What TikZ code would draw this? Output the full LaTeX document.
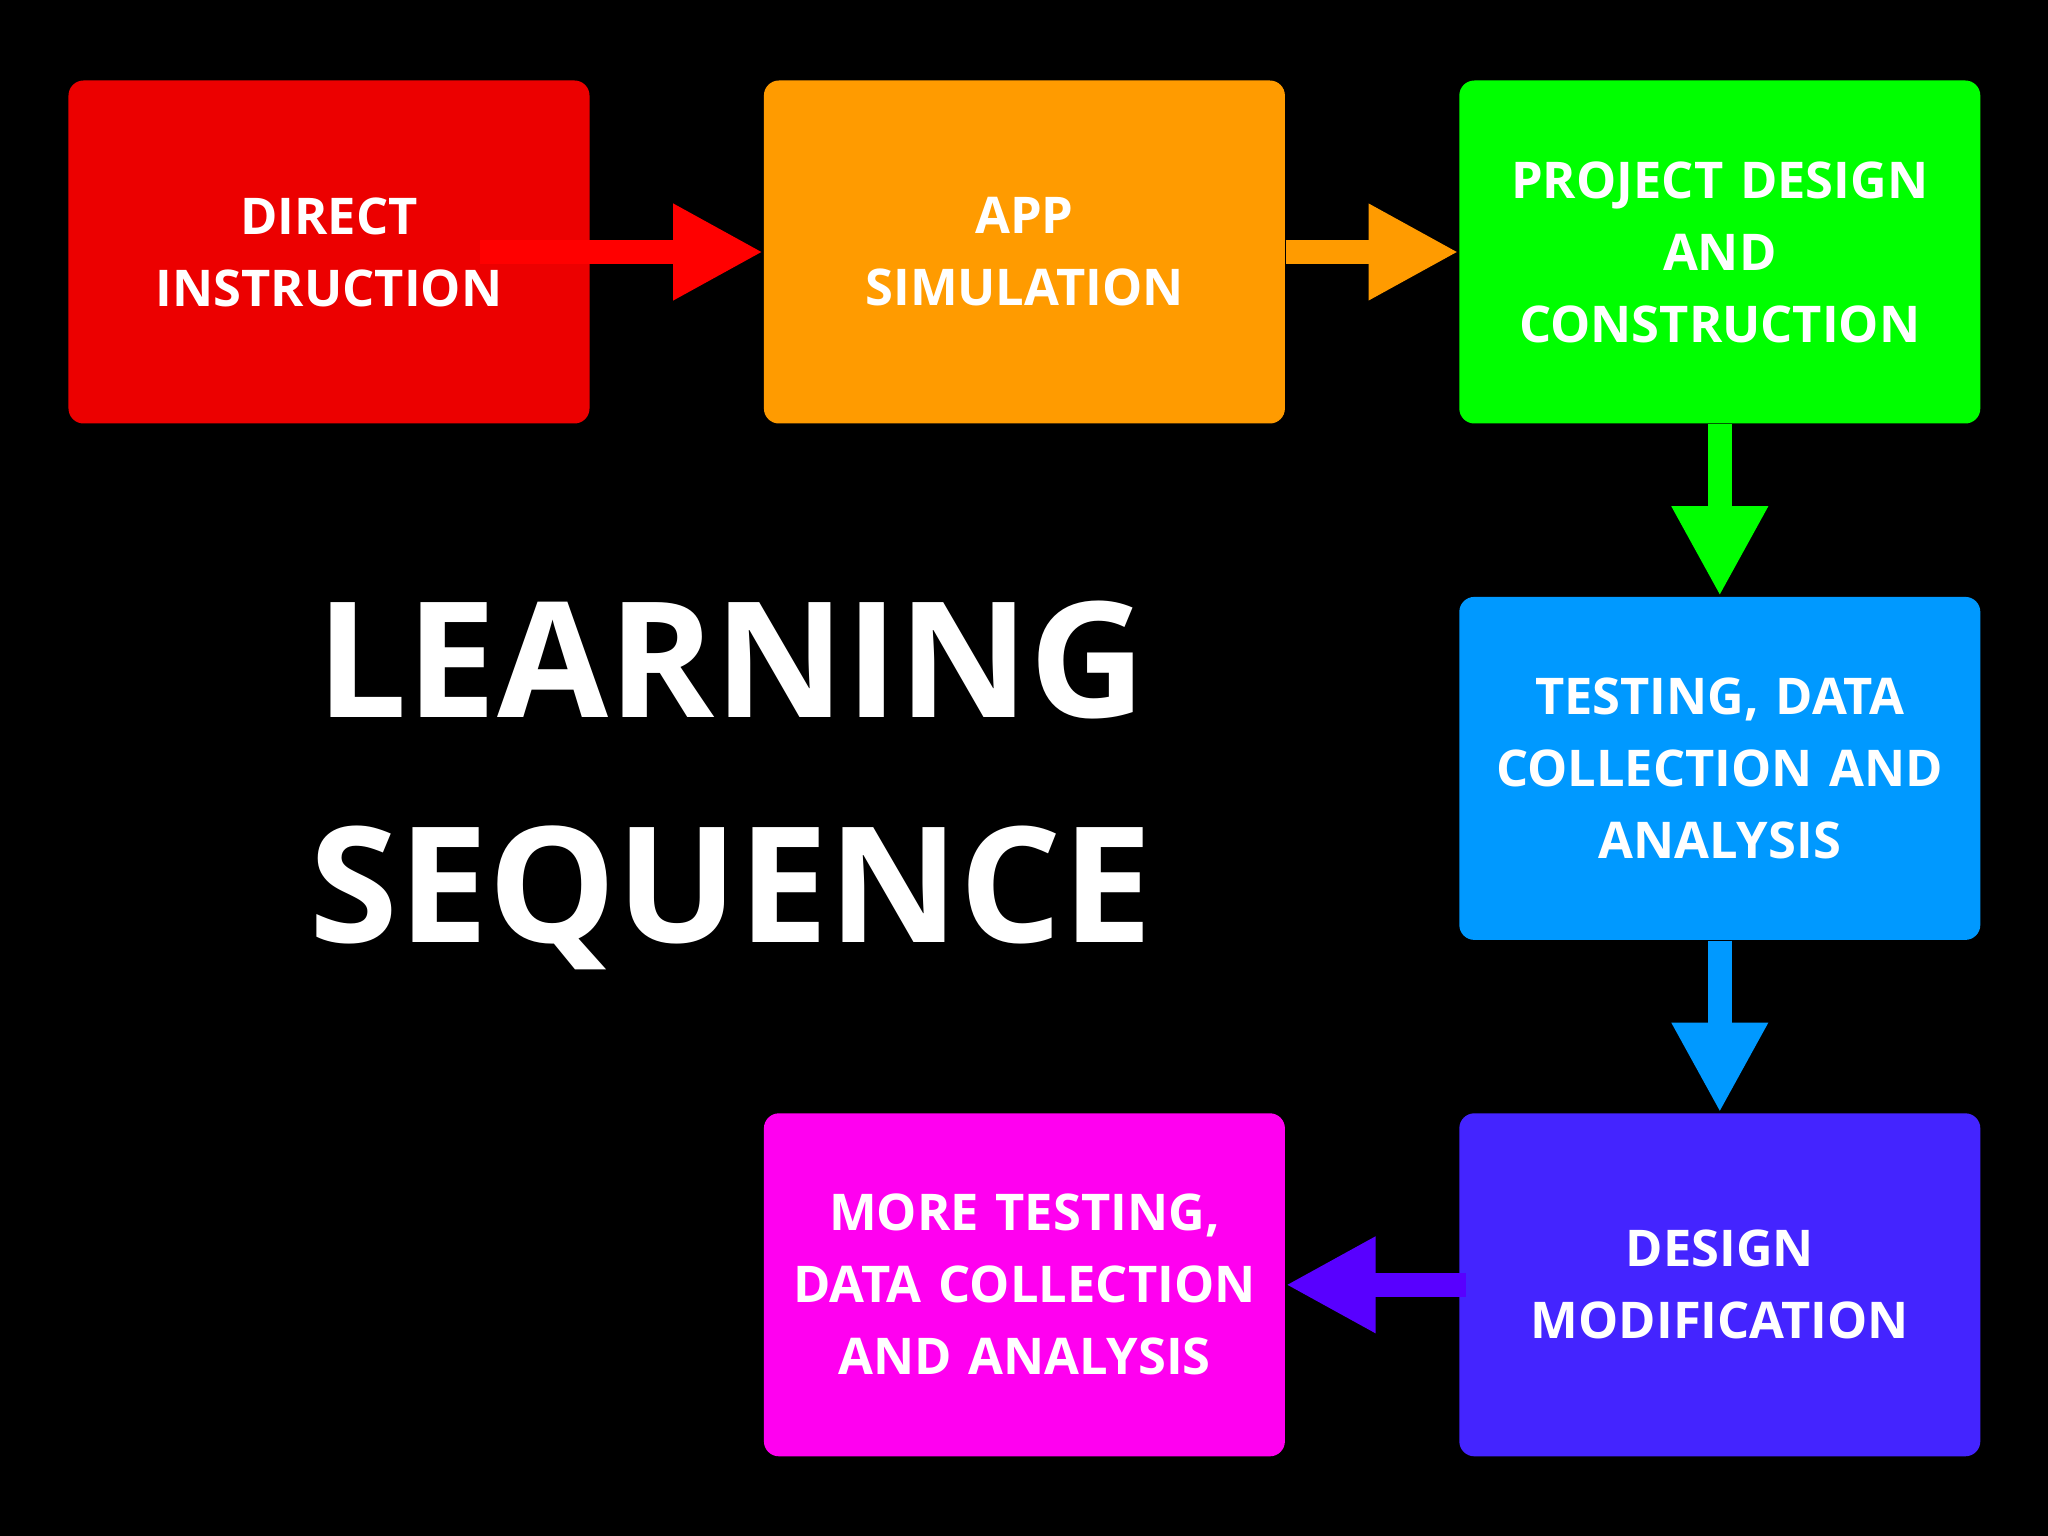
\documentclass[tikz,border=0pt]{standalone}
\usepackage{fontspec}
\setmainfont{Open Sans}
\usetikzlibrary{positioning,arrows.meta,calc}

\definecolor{directred}{RGB}{236,0,0}
\definecolor{arrowred}{RGB}{255,0,0}
\definecolor{apporange}{RGB}{255,155,0}
\definecolor{projgreen}{RGB}{0,255,0}
\definecolor{testblue}{RGB}{0,153,255}
\definecolor{modindigo}{RGB}{68,36,255}
\definecolor{arrowviolet}{RGB}{88,0,255}
\definecolor{moremagenta}{RGB}{255,0,240}

\begin{document}
\begin{tikzpicture}[
  stagebox/.style={rectangle, rounded corners=0.15cm,
    minimum width=5.21cm, minimum height=3.43cm, inner sep=0pt,
    text width=5.2cm, align=center, text=white,
    font=\fontsize{14.4}{20.5}\selectfont\bfseries},
  flow/.style={line width=0.24cm,
    -{Triangle[length=0.9cm, width=0.9cm]}}
]
  \fill[black] (0,0) rectangle (20.48,-15.36);
  \node (direct)[stagebox, fill=directred] at (3.29,-2.52)
    {DIRECT\\INSTRUCTION};
  \node (appsim)[stagebox, fill=apporange, right = 1.73 of direct]
    {APP\\SIMULATION};
  \node (project)[stagebox, fill=projgreen, right = 1.73 of appsim]
    {PROJECT DESIGN\\AND\\CONSTRUCTION};
  \node (testing)[stagebox, fill=testblue, below = 1.72 of project]
    {TESTING, DATA\\COLLECTION AND\\ANALYSIS};
  \node (modify)[stagebox, fill=modindigo, below = 1.72 of testing]
    {DESIGN\\MODIFICATION};
  \node (moretest)[stagebox, fill=moremagenta, left = 1.73 of modify]
    {MORE TESTING,\\DATA COLLECTION\\AND ANALYSIS};
  \node (title)[text=white, align=center,
      font=\fontsize{45.8}{64}\selectfont\bfseries] at (7.31,-7.85)
    {LEARNING\\SEQUENCE};
  % Draw arrows
  \draw[flow, color=arrowred]
    ($(direct.east)+(-1.1,0)$) -- (appsim.west);
  \draw[flow, color=apporange] (appsim.east) -- (project.west);
  \draw[flow, color=projgreen] (project.south) -- (testing.north);
  \draw[flow, color=testblue] (testing.south) -- (modify.north);
  \draw[flow, color=arrowviolet]
    ($(modify.west)+(0.07,0)$) -- (moretest.east);
\end{tikzpicture}
\end{document}
